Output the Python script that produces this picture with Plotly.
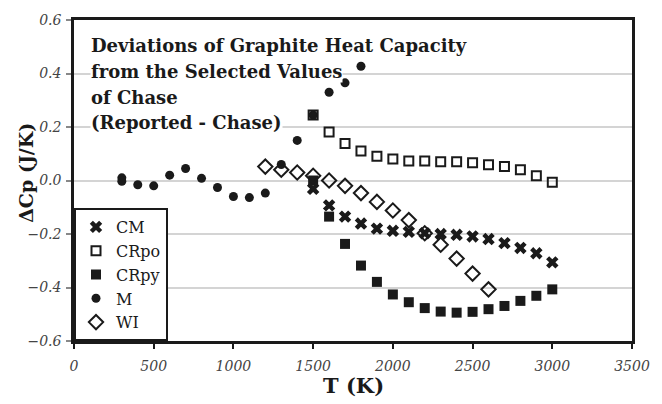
import plotly.graph_objects as go

# ---- data ----
T_CM = [1500, 1600, 1700, 1800, 1900, 2000, 2100, 2200, 2300, 2400, 2500, 2600, 2700, 2800, 2900, 3000]
CM = [-0.031, -0.093, -0.135, -0.161, -0.180, -0.188, -0.192, -0.197, -0.200, -0.203, -0.209, -0.219, -0.234, -0.252, -0.272, -0.306]

T_CRpo = [1500, 1600, 1700, 1800, 1900, 2000, 2100, 2200, 2300, 2400, 2500, 2600, 2700, 2800, 2900, 3000]
CRpo = [0.245, 0.181, 0.138, 0.110, 0.091, 0.080, 0.073, 0.073, 0.070, 0.070, 0.066, 0.059, 0.052, 0.040, 0.018, -0.007]

T_CRpy = [1500, 1600, 1700, 1800, 1900, 2000, 2100, 2200, 2300, 2400, 2500, 2600, 2700, 2800, 2900, 3000]
CRpy = [0.000, -0.135, -0.237, -0.318, -0.379, -0.426, -0.455, -0.477, -0.490, -0.494, -0.491, -0.481, -0.469, -0.450, -0.431, -0.407]

T_M = [300, 300, 400, 500, 600, 700, 800, 900, 1000, 1100, 1200, 1300, 1400, 1500, 1600, 1700, 1800]
M = [0.010, -0.003, -0.016, -0.020, 0.020, 0.045, 0.008, -0.026, -0.060, -0.064, -0.047, 0.060, 0.150, 0.245, 0.330, 0.365, 0.427]

T_WI = [1200, 1300, 1400, 1500, 1600, 1700, 1800, 1900, 2000, 2100, 2200, 2300, 2400, 2500, 2600]
WI = [0.052, 0.040, 0.030, 0.018, 0.000, -0.020, -0.047, -0.080, -0.112, -0.148, -0.197, -0.240, -0.292, -0.348, -0.407]

title_lines = ["Deviations of Graphite Heat Capacity",
               "from the Selected Values",
               "of Chase",
               "(Reported - Chase)"]
x_title = "T (K)"
y_title = "ΔCp (J/K)"

x_ticks = [0, 500, 1000, 1500, 2000, 2500, 3000, 3500]
y_ticks = [-0.6, -0.4, -0.2, 0.0, 0.2, 0.4, 0.6]

SERIF = "DejaVu Serif"
INK = "#1a1a1a"

fig = go.Figure()
fig.add_trace(go.Scatter(x=T_CM, y=CM, mode="markers", name="CM",
                         marker=dict(symbol="x", size=11, color=INK, line=dict(width=0))))
fig.add_trace(go.Scatter(x=T_CRpo, y=CRpo, mode="markers", name="CRpo",
                         marker=dict(symbol="square-open", size=9, color=INK, line=dict(width=2))))
fig.add_trace(go.Scatter(x=T_CRpy, y=CRpy, mode="markers", name="CRpy",
                         marker=dict(symbol="square", size=10, color=INK)))
fig.add_trace(go.Scatter(x=T_M, y=M, mode="markers", name="M",
                         marker=dict(symbol="circle", size=9, color=INK)))
fig.add_trace(go.Scatter(x=T_WI, y=WI, mode="markers", name="WI",
                         marker=dict(symbol="diamond-open", size=11, color=INK, line=dict(width=2))))

L, R, TOP, BOT = 74, 21, 16, 63
plot_w = 662 - L - R
plot_h = 404 - TOP - BOT


def px_x(px):
    return (px - L) / plot_w


def px_y(py):
    return (404 - BOT - py) / plot_h


# title lines, each with a white background hiding the gridlines behind the text
centers = [42, 68, 94, 120]
for line, cy in zip(title_lines, centers):
    fig.add_annotation(text=line, xref="paper", yref="paper",
                       x=px_x(90), y=px_y(cy),
                       xanchor="left", yanchor="middle", showarrow=False,
                       bgcolor="white", borderpad=0,
                       font=dict(family=SERIF, size=18, color=INK, weight="bold"))

# axis titles
fig.add_annotation(text=x_title, xref="paper", yref="paper",
                   x=px_x(358), y=px_y(386), xanchor="center", yanchor="middle",
                   showarrow=False,
                   font=dict(family=SERIF, size=21, color=INK, weight="bold"))
fig.add_annotation(text=y_title, xref="paper", yref="paper", textangle=-90,
                   x=px_x(25), y=px_y(171), xanchor="center", yanchor="middle",
                   showarrow=False,
                   font=dict(family=SERIF, size=19, color=INK, weight="bold"))

fig.update_layout(
    width=662, height=404,
    margin=dict(l=L, r=R, t=TOP, b=BOT),
    paper_bgcolor="white", plot_bgcolor="white",
    font=dict(family=SERIF, color=INK),
    showlegend=True,
    legend=dict(x=0, y=0, xanchor="left", yanchor="bottom",
                bgcolor="white", bordercolor=INK, borderwidth=2,
                font=dict(family=SERIF, size=16, color=INK),
                tracegroupgap=0, itemwidth=30),
)
fig.update_xaxes(range=[0, 3500], tickvals=x_ticks, ticktext=[str(v) for v in x_ticks],
                 showgrid=False, zeroline=False,
                 showline=True, mirror=True, linewidth=2.5, linecolor=INK,
                 ticks="outside", ticklen=5, tickwidth=1.5, tickcolor=INK,
                 ticklabelstandoff=5,
                 tickfont=dict(family=SERIF, size=14, color="#444", style="italic"))
fig.update_yaxes(range=[-0.6, 0.6], tickvals=y_ticks, tickformat=".1f",
                 showgrid=True, gridcolor="#d4d4d4", gridwidth=1.5, zeroline=False,
                 showline=True, mirror=True, linewidth=2.5, linecolor=INK,
                 ticks="outside", ticklen=5, tickwidth=1.5, tickcolor="#888",
                 ticklabelstandoff=2,
                 tickfont=dict(family=SERIF, size=14, color="#444", style="italic"))

fig.write_html("out.html")
